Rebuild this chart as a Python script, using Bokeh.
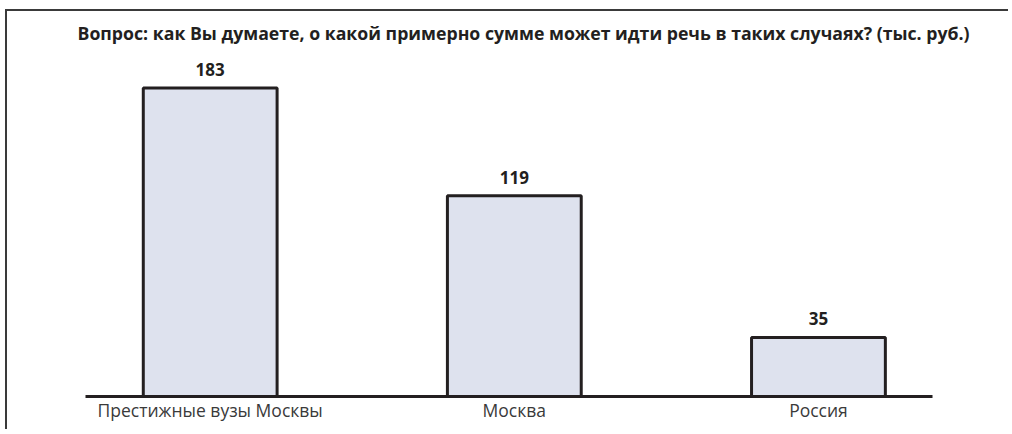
import numpy as np
from bokeh.plotting import figure
from bokeh.models import Range1d, FixedTicker, ColumnDataSource
from bokeh.core.properties import value
from bokeh.embed import file_html
from bokeh.resources import INLINE

title_text = "Вопрос: как Вы думаете, о какой примерно сумме может идти речь в таких случаях? (тыс. руб.)"
categories = ["Престижные вузы Москвы", "Москва", "Россия"]
values = [183, 119, 35]
value_labels = ["183", "119", "35"]

idx = np.arange(len(categories))
src = ColumnDataSource(dict(x=idx, top=values, lab=value_labels))

p = figure(width=1003, height=420, output_backend="svg", toolbar_location=None,
           x_range=Range1d(-0.41, 2.375), y_range=Range1d(0, 204),
           min_border_left=78, min_border_right=78, min_border_top=41, min_border_bottom=35,
           title=title_text)
p.styles = {"border-left": "2px solid #3a3a3a", "border-top": "2px solid #3a3a3a",
            "margin-left": "5px", "margin-top": "9px"}

p.title.text_font = "Open Sans"
p.title.text_font_style = "bold"
p.title.text_font_size = "17.7px"
p.title.text_color = "#231f20"
p.title.align = "left"
p.title.offset = -8
p.title.standoff = 15

p.vbar(x="x", top="top", width=0.44, bottom=0, source=src,
       fill_color="#dee2ee", line_color="#231f20", line_width=3)
p.text(x="x", y="top", text="lab", source=src, y_offset=-12,
       text_align="center", text_baseline="bottom",
       text_font=value("Open Sans"), text_font_style="bold",
       text_font_size="17px", text_color="#231f20")

p.xgrid.visible = False
p.ygrid.visible = False
p.yaxis.visible = False
p.outline_line_color = None
p.background_fill_color = "white"
p.border_fill_color = "white"

ax = p.xaxis[0]
ax.ticker = FixedTicker(ticks=list(idx))
ax.major_label_overrides = {int(i): c for i, c in zip(idx, categories)}
ax.axis_line_color = "#231f20"
ax.axis_line_width = 3
ax.major_tick_line_color = None
ax.minor_tick_line_color = None
ax.major_label_text_font = "Open Sans"
ax.major_label_text_font_size = "17.5px"
ax.major_label_text_color = "#3a3a3a"
ax.major_label_standoff = -5

open("out.html", "w").write(file_html(p, INLINE))
